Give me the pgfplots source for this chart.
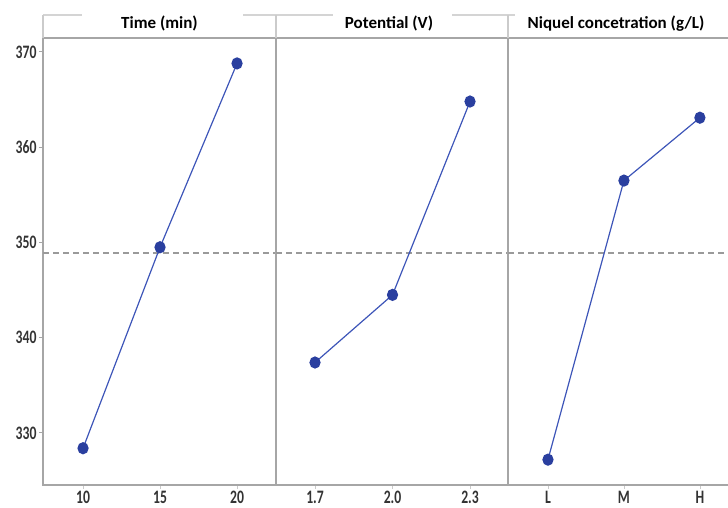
\documentclass[border=0pt]{standalone}
\usepackage{fontspec}
\setmainfont{Carlito}
\usepackage{pgfplots}
\pgfplotsset{compat=1.18}
\definecolor{axgray}{HTML}{A6A6A6}
\definecolor{hdrgray}{HTML}{D4D4D4}
\definecolor{lineblue}{HTML}{3D55B8}
\definecolor{markblue}{HTML}{2A3F9F}
\definecolor{meangray}{HTML}{9A9A9A}
\tikzset{
  meanline/.style={meangray, line width=1.2pt, dash pattern=on 6pt off 4pt},
  dataline/.style={lineblue, line width=1.2pt, mark=*, mark size=5pt, mark options={markblue, fill=markblue, solid, yscale=1.1}},
}
\pgfplotsset{panel/.style={
  scale only axis, height=447pt, ymin=324.54, ymax=371.47,
  anchor=south west,
  axis line style={axgray, line width=1.3pt},
  tick style={axgray, line width=1pt},
  tick align=outside, major tick length=4pt,
  xtick style={axgray!60, line width=0.8pt},
  ticklabel style={font=\bfseries\fontsize{19}{21}\selectfont, text=black!80, xscale=0.72},
  xticklabel style={yshift=1pt},
  /pgf/number format/assume math mode=true,
  clip=false,
}}
\begin{document}
\begin{tikzpicture}
\useasboundingbox (0pt,0pt) rectangle (728pt,508pt);
\begin{axis}[panel, name=p1, at={(43pt,23pt)}, width=233pt, xmin=7.40, xmax=22.53,
  xtick={10,15,20}, ytick={330,340,350,360,370}, ytick pos=left, xtick pos=bottom]
\addplot[meanline] coordinates {(7.40,348.9) (22.53,348.9)};
\addplot[dataline] coordinates {(10,328.4) (15,349.5) (20,368.8)};
\end{axis}
\begin{axis}[panel, name=p2, at={(276pt,23pt)}, width=232pt, xmin=1.549, xmax=2.447,
  xtick={1.7,2.0,2.3}, xticklabels={1.7,2.0,2.3}, ytick=\empty, xtick pos=bottom]
\addplot[meanline] coordinates {(1.549,348.9) (2.447,348.9)};
\addplot[dataline] coordinates {(1.7,337.4) (2.0,344.5) (2.3,364.8)};
\end{axis}
\begin{axis}[panel, name=p3, at={(508pt,23pt)}, width=220pt, xmin=-0.526, xmax=2.37,
  axis x line*=box, axis y line*=left, xtick pos=bottom,
  xtick={0,1,2}, xticklabels={L,M,H}, ytick=\empty]
\addplot[meanline] coordinates {(-0.526,348.9) (2.37,348.9)};
\addplot[dataline] coordinates {(0,327.2) (1,356.5) (2,363.1)};
\end{axis}
% header band
\draw[hdrgray, line width=1.5pt] (43pt,493pt) -- (82pt,493pt);
\draw[hdrgray, line width=1.5pt] (243pt,493pt) -- (333pt,493pt);
\draw[hdrgray, line width=1.5pt] (452pt,493pt) -- (515pt,493pt);
\draw[hdrgray!80!axgray, line width=1.2pt] (43pt,470pt) -- (43pt,493pt);
\draw[hdrgray!80!axgray, line width=1.2pt] (276pt,470pt) -- (276pt,493pt);
\draw[hdrgray!80!axgray, line width=1.2pt] (508pt,470pt) -- (508pt,493pt);
\node[anchor=base, font=\bfseries\fontsize{17}{20}\selectfont] at (159.5pt,479pt) {Time (min)};
\node[anchor=base, font=\bfseries\fontsize{17}{20}\selectfont] at (389pt,479pt) {Potential (V)};
\node[anchor=base, font=\bfseries\fontsize{17}{20}\selectfont] at (616pt,479pt) {Niquel concetration (g/L)};
\end{tikzpicture}
\end{document}
